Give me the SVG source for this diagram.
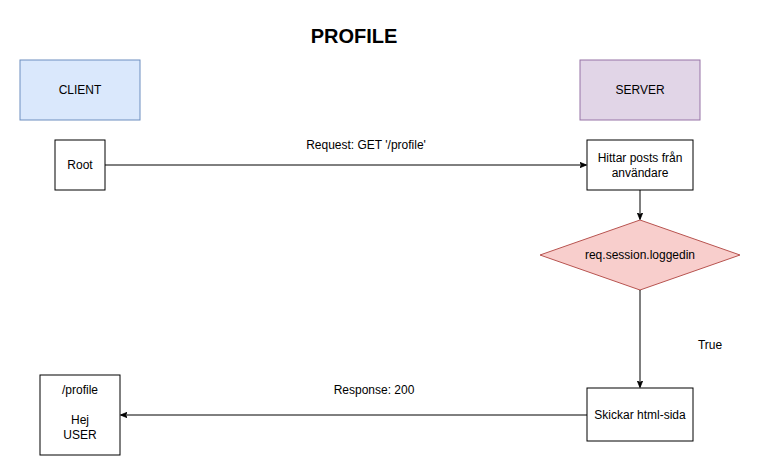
<svg xmlns="http://www.w3.org/2000/svg" width="761" height="476" viewBox="0 0 761 476">
<style>
text{font-family:"Liberation Sans",Arial,sans-serif;font-size:12px;fill:#000;text-anchor:middle}
.box{fill:#fff;stroke:#000;stroke-width:1}
.edge{fill:none;stroke:#000;stroke-width:1}
</style>
<defs>
<marker id="arr" viewBox="0 0 10 10" refX="9" refY="5" markerWidth="7" markerHeight="7" orient="auto" markerUnits="userSpaceOnUse">
<path d="M0,1 L10,5 L0,9 L2.5,5 Z" fill="#000" stroke="#000"/>
</marker>
</defs>
<rect width="761" height="476" fill="#fff"/>
<text x="354" y="43" style="font-size:20px;font-weight:bold">PROFILE</text>
<g id="client"><rect x="20" y="60" width="120" height="60" fill="#dae8fc" stroke="#6c8ebf"/><text x="80" y="94">CLIENT</text></g>
<g id="server"><rect x="580" y="60" width="120" height="60" fill="#e1d5e7" stroke="#9673a6"/><text x="640" y="94">SERVER</text></g>
<g id="root"><rect class="box" x="55" y="140" width="50" height="50"/><text x="80" y="169">Root</text></g>
<g id="hittar"><rect class="box" x="587" y="140" width="106" height="50"/><text x="640" y="162">Hittar posts från</text><text x="640" y="177">användare</text></g>
<g id="decision"><polygon points="640,220 740,255 640,290 540,255" fill="#f8cecc" stroke="#b85450"/><text x="640" y="259">req.session.loggedin</text></g>
<g id="skickar"><rect class="box" x="587" y="388" width="106" height="53"/><text x="640" y="419">Skickar html-sida</text></g>
<g id="profile"><rect class="box" x="40" y="375" width="80" height="80"/><text x="80" y="394">/profile</text><text x="80" y="424">Hej</text><text x="80" y="439">USER</text></g>
<g id="connectors">
<path class="edge" d="M105,165 H586" marker-end="url(#arr)"/>
<text x="366" y="149">Request: GET '/profile'</text>
<path class="edge" d="M640,190 V219" marker-end="url(#arr)"/>
<path class="edge" d="M640,290 V387" marker-end="url(#arr)"/>
<text x="710" y="349">True</text>
<path class="edge" d="M587,415 H121" marker-end="url(#arr)"/>
<text x="374" y="394">Response: 200</text>
</g>
</svg>
